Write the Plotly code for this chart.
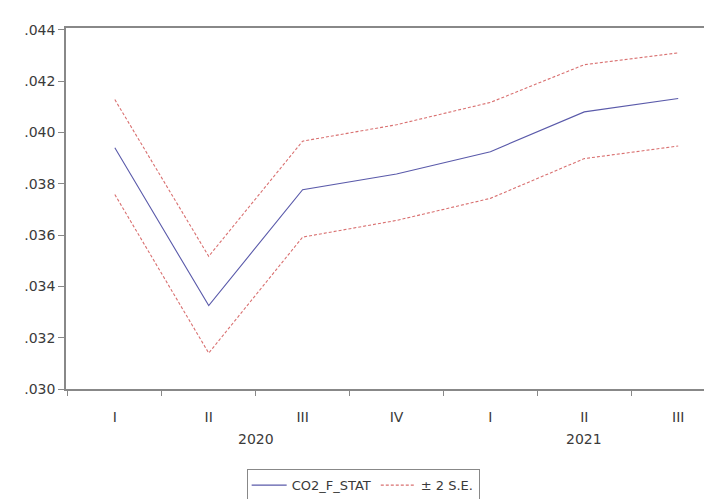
import plotly.graph_objects as go

quarters = ["I", "II", "III", "IV", "I", "II", "III"]
years = ["2020", "2021"]
year_centers = [1.5, 5.0]
forecast = [0.03940, 0.03325, 0.03777, 0.03838, 0.03925, 0.04080, 0.04132]
upper = [0.04128, 0.03517, 0.03966, 0.04030, 0.04117, 0.04264, 0.04310]
lower = [0.03758, 0.03140, 0.03592, 0.03657, 0.03743, 0.03898, 0.03947]
ytick_vals = [0.030, 0.032, 0.034, 0.036, 0.038, 0.040, 0.042, 0.044]
ytick_text = [".030", ".032", ".034", ".036", ".038", ".040", ".042", ".044"]

x = list(range(len(quarters)))
font = "DejaVu Sans, Verdana, sans-serif"
fsize = 14
tcol = "#3a3a3a"

fig = go.Figure()
fig.add_trace(go.Scatter(x=x, y=forecast, mode="lines", name="CO2_F_STAT",
                         line=dict(color="#5a5aaa", width=1.1)))
fig.add_trace(go.Scatter(x=x, y=upper, mode="lines", name="± 2 S.E.",
                         line=dict(color="#d97070", width=1.1, dash="3px,2px"),
                         legendgroup="se"))
fig.add_trace(go.Scatter(x=x, y=lower, mode="lines", name="± 2 S.E.",
                         line=dict(color="#d97070", width=1.1, dash="3px,2px"),
                         legendgroup="se", showlegend=False))

for yr, xc in zip(years, year_centers):
    fig.add_annotation(x=xc, y=0, xref="x", yref="paper", text=yr,
                       showarrow=False, yanchor="top", yshift=-40,
                       font=dict(family=font, size=fsize, color=tcol))

fig.update_layout(
    width=712, height=499,
    margin=dict(l=58, r=6, t=20, b=105),
    plot_bgcolor="white", paper_bgcolor="white",
    font=dict(family=font, size=fsize, color=tcol),
    showlegend=True,
    legend=dict(orientation="h", x=0.46, xanchor="center", y=-0.222, yanchor="top",
                bordercolor="#888888", borderwidth=1, bgcolor="white",
                font=dict(family=font, size=fsize - 1, color=tcol),
                itemwidth=35, tracegroupgap=0),
)
fig.update_xaxes(
    range=[-0.52, 6.36], tickmode="array", tickvals=x, ticktext=quarters,
    ticks="", showgrid=False, zeroline=False, ticklabelstandoff=14,
    showline=True, linecolor="#888888", linewidth=1.5, mirror=True,
    tickfont=dict(family=font, size=fsize, color=tcol),
    minor=dict(tick0=0.5, dtick=1, ticks="outside", ticklen=5,
               tickcolor="#888888", showgrid=False),
)
fig.update_yaxes(
    range=[0.030, 0.04407], tickmode="array", tickvals=ytick_vals, ticktext=ytick_text,
    ticks="outside", ticklen=6, tickcolor="#888888", showgrid=False, zeroline=False,
    showline=True, linecolor="#888888", linewidth=1.5, mirror=True,
    tickfont=dict(family=font, size=fsize, color=tcol),
)

fig.write_html("out.html")
